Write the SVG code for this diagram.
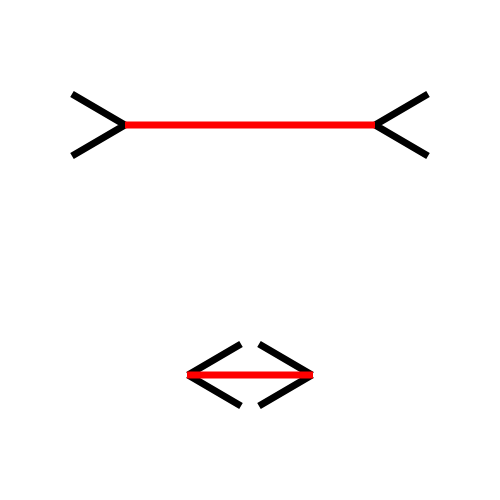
<svg xmlns="http://www.w3.org/2000/svg" width="500" height="500" viewBox="0 0 500 500">
<style>
.fin{stroke:#000;stroke-width:7;fill:none;stroke-linecap:butt}
.seg{stroke:#f00;stroke-width:7}
</style>
<rect width="500" height="500" fill="#fff"/>
<g id="top">
<path class="fin" d="M72 94L125 125M125 125L72 156M428 94L375 125M375 125L428 156"/>
<line class="seg" x1="125" y1="125" x2="375" y2="125"/>
</g>
<g id="bottom">
<path class="fin" d="M241 344L188 375M188 375L241 406M259 344L312 375M312 375L259 406"/>
<line class="seg" x1="187" y1="375" x2="313" y2="375"/>
</g>
</svg>
